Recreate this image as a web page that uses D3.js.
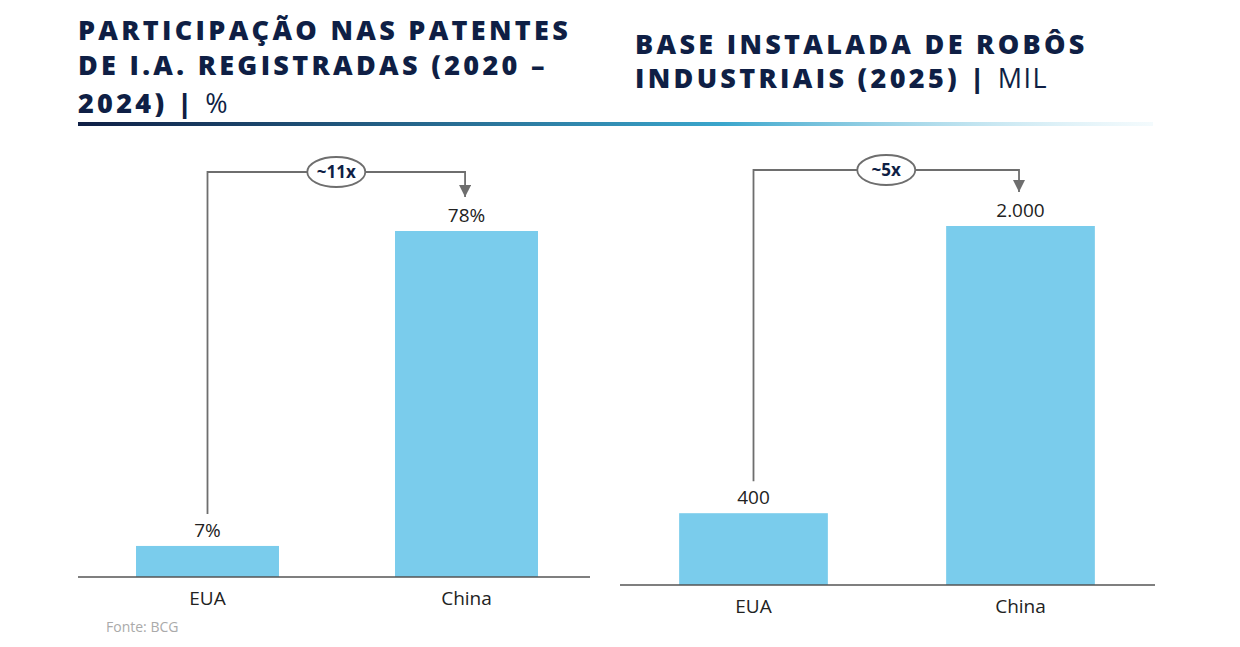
<!DOCTYPE html><html><head><meta charset="utf-8"><script src="https://cdn.jsdelivr.net/npm/d3@7"></script>
<style>body{margin:0;background:#fff}</style></head><body><svg id="c" width="1240" height="647"></svg>
<script>
const categories=["EUA","China"];
const patentValues=[7,78];
const patentLabels=["7%","78%"];
const robotValues=[400,2000];
const robotLabels=["400","2.000"];
const svg=d3.select("#c");
const navy="#0f1f45",bar="#7accec",txt="#222";
const defs=svg.append("defs");
const g=defs.append("linearGradient").attr("id","gr");
g.append("stop").attr("offset","0").attr("stop-color","#0f1f45");
g.append("stop").attr("offset","0.6").attr("stop-color","#3aa6cc");
g.append("stop").attr("offset","1").attr("stop-color","#d8f0f8").attr("stop-opacity",0.3);
svg.append("rect").attr("x",78).attr("y",122).attr("width",1075).attr("height",4).attr("fill","url(#gr)");
defs.append("marker").attr("id","ar").attr("viewBox","0 0 10 10").attr("refX",10).attr("refY",5).attr("markerWidth",12).attr("markerHeight",12).attr("markerUnits","userSpaceOnUse").attr("orient","auto")
 .append("path").attr("d","M0,0L10,5L0,10Z").attr("fill","#6e6e6e");
function title(x,lines,sub){
 lines.forEach((l,i)=>{const t=svg.append("text").attr("x",x).attr("y",l[0]).attr("font-family","Open Sans").attr("font-weight",800).attr("font-size",27).attr("letter-spacing",3.3).attr("fill",navy).text(l[1]);
  if(i===lines.length-1){t.append("tspan").text(" | ");t.append("tspan").attr("font-weight",400).attr("letter-spacing",1.5).text(sub);}});
}
title(78,[[40,"PARTICIPAÇÃO NAS PATENTES"],[75,"DE I.A. REGISTRADAS (2020 –"],[113,"2024)"]],"%");
title(635,[[54,"BASE INSTALADA DE ROBÔS"],[88,"INDUSTRIAIS (2025)"]],"MIL");
function chart(o){
 const x=d3.scaleBand().domain(categories).range(o.r).paddingInner(o.pi).paddingOuter(o.pi/2);
 const y=d3.scaleLinear().domain([0,o.max]).range([o.base,o.top]);
 svg.selectAll(null).data(o.vals).join("rect").attr("x",(d,i)=>x(categories[i])).attr("width",x.bandwidth()).attr("y",d=>y(d)).attr("height",d=>o.base-y(d)).attr("fill",bar);
 svg.selectAll(null).data(o.vals).join("text").attr("x",(d,i)=>x(categories[i])+x.bandwidth()/2).attr("y",d=>y(d)-9).attr("text-anchor","middle").attr("font-family","Open Sans").attr("font-size",19).attr("fill",txt).text((d,i)=>o.labels[i]);
 svg.append("line").attr("x1",o.x0).attr("x2",o.x1).attr("y1",o.base).attr("y2",o.base).attr("stroke","#555").attr("stroke-width",1.5);
 categories.forEach(c=>svg.append("text").attr("x",x(c)+x.bandwidth()/2).attr("y",o.base+28).attr("text-anchor","middle").attr("font-family","Open Sans").attr("font-size",19).attr("fill",txt).text(c));
 const ax=x(categories[0])+x.bandwidth()/2, bx=x(categories[1])+x.bandwidth()*0.49;
 svg.append("path").attr("d",`M${ax},${y(o.vals[0])-32}V${o.by}H${bx}V${y(o.vals[1])-34}`).attr("fill","none").attr("stroke","#6e6e6e").attr("stroke-width",1.8).attr("marker-end","url(#ar)");
 const ex=(ax+bx)/2;
 svg.append("ellipse").attr("cx",ex).attr("cy",o.by).attr("rx",29).attr("ry",15).attr("fill","#fff").attr("stroke","#6e6e6e").attr("stroke-width",1.8);
 svg.append("text").attr("x",ex).attr("y",o.by+6).attr("text-anchor","middle").attr("font-family","Open Sans").attr("font-weight",700).attr("font-size",17).attr("fill",navy).text(o.mult);
}
chart({r:[78,596],pi:0.448,x0:78,x1:590,base:577,top:231,max:78,vals:patentValues,labels:patentLabels,by:172,mult:"~11x"});
chart({r:[620,1154],pi:0.443,x0:620,x1:1155,base:585,top:226,max:2000,vals:robotValues,labels:robotLabels,by:170,mult:"~5x"});
svg.append("text").attr("x",106).attr("y",632).attr("font-family","Open Sans").attr("font-size",14).attr("fill","#aaa").text("Fonte: BCG");
</script></body></html>
